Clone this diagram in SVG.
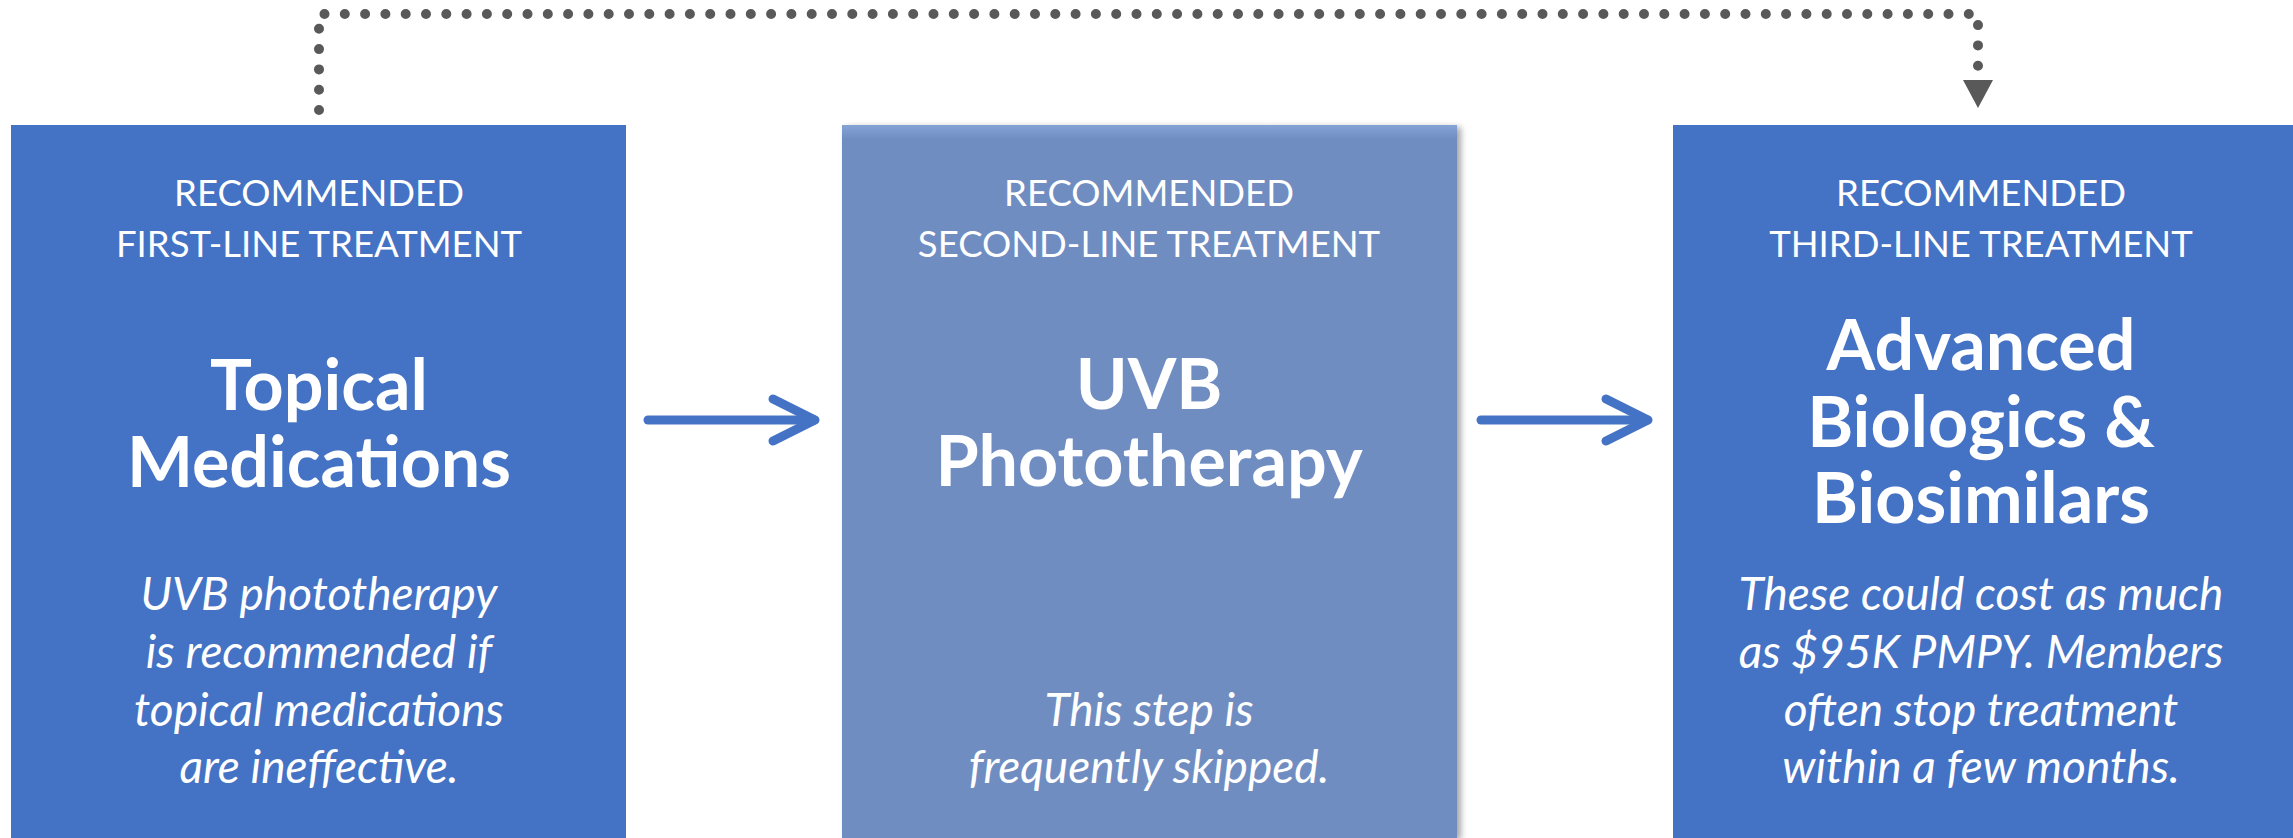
<svg xmlns="http://www.w3.org/2000/svg" width="2293" height="838" viewBox="0 0 2293 838">
<defs>
<style>
.box{fill:#4472C4}
.hdr{font-family:Lato,"Open Sans","Liberation Sans",sans-serif;font-size:36.5px;fill:#FFFFFF;text-anchor:middle}
.ttl{font-family:Lato,"Open Sans","Liberation Sans",sans-serif;font-size:70px;font-weight:bold;fill:#FFFFFF;text-anchor:middle}
.note{font-family:Lato,"Open Sans","Liberation Sans",sans-serif;font-size:46px;font-style:italic;fill:#FFFFFF;text-anchor:middle}
.solid{stroke:#4472C4;stroke-width:9;fill:none;stroke-linecap:round;stroke-linejoin:round}
.dots{stroke:#595959;stroke-width:10;fill:none;stroke-linecap:round;stroke-dasharray:0 20.3}
</style>
<linearGradient id="g2" x1="0" y1="0" x2="0" y2="1">
<stop offset="0" stop-color="#86A3D6"/>
<stop offset="0.02" stop-color="#6F8DC2"/>
<stop offset="1" stop-color="#6F8DC2"/>
</linearGradient>
<filter id="sh" x="-5%" y="-5%" width="112%" height="112%">
<feGaussianBlur in="SourceAlpha" stdDeviation="3"/>
<feOffset dx="4" dy="2" result="b"/>
<feComponentTransfer><feFuncA type="linear" slope="0.35"/></feComponentTransfer>
<feMerge><feMergeNode/><feMergeNode in="SourceGraphic"/></feMerge>
</filter>
</defs>
<rect width="2293" height="838" fill="#FFFFFF"/>

<g id="connectors">
<path class="dots" d="M319,110 V14 H1978 V74"/>
<polygon points="1963,80 1993,80 1978,108" fill="#595959"/>
<line class="solid" x1="648" y1="420" x2="814" y2="420"/>
<polyline class="solid" points="773,399 815,420 773,441"/>
<line class="solid" x1="1481" y1="420" x2="1647" y2="420"/>
<polyline class="solid" points="1606,399 1648,420 1606,441"/>
</g>

<g id="node-first">
<rect class="box" x="11" y="125" width="615" height="713"/>
<text class="hdr" x="319" y="206">RECOMMENDED</text>
<text class="hdr" x="319" y="257">FIRST-LINE TREATMENT</text>
<text class="ttl" x="319" y="410">Topical</text>
<text class="ttl" x="319" y="487">Medications</text>
<text class="note" x="319" y="610">UVB phototherapy</text>
<text class="note" x="319" y="668">is recommended if</text>
<text class="note" x="319" y="726">topical medications</text>
<text class="note" x="319" y="783">are ineffective.</text>
</g>

<g id="node-second">
<rect x="842" y="125" width="615" height="713" fill="url(#g2)" filter="url(#sh)"/>
<text class="hdr" x="1149" y="206">RECOMMENDED</text>
<text class="hdr" x="1149" y="257">SECOND-LINE TREATMENT</text>
<text class="ttl" x="1149" y="409">UVB</text>
<text class="ttl" x="1149" y="486">Phototherapy</text>
<text class="note" x="1149" y="726">This step is</text>
<text class="note" x="1149" y="783">frequently skipped.</text>
</g>

<g id="node-third">
<rect class="box" x="1673" y="125" width="620" height="713"/>
<text class="hdr" x="1981" y="206">RECOMMENDED</text>
<text class="hdr" x="1981" y="257">THIRD-LINE TREATMENT</text>
<text class="ttl" x="1981" y="370">Advanced</text>
<text class="ttl" x="1981" y="447">Biologics &amp;</text>
<text class="ttl" x="1981" y="523">Biosimilars</text>
<text class="note" x="1981" y="610">These could cost as much</text>
<text class="note" x="1981" y="668">as $95K PMPY. Members</text>
<text class="note" x="1981" y="726">often stop treatment</text>
<text class="note" x="1981" y="783">within a few months.</text>
</g>
</svg>
